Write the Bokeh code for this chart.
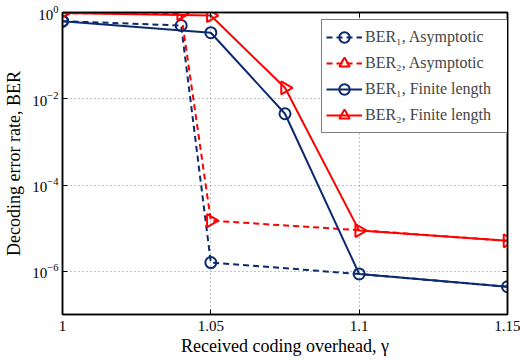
import math
from bokeh.plotting import figure
from bokeh.models import (FixedTicker, LinearAxis, Legend, LegendItem,
                          CustomJSTickFormatter, Range1d)
from bokeh.embed import file_html
from bokeh.resources import INLINE

x_asym = [1.0, 1.04, 1.05, 1.1, 1.15]
ber1_asym = [0.63, 0.50, 1.6e-6, 8.7e-7, 4.4e-7]
ber2_asym = [0.97, 0.93, 1.5e-5, 9.0e-6, 5.1e-6]

x_fin = [1.0, 1.05, 1.075, 1.1, 1.15]
ber1_fin = [0.63, 0.34, 4.5e-3, 8.7e-7, 4.4e-7]
ber2_fin = [0.97, 0.85, 1.8e-2, 8.8e-6, 5.1e-6]

labels = ["BER\u2081, Asymptotic", "BER\u2082, Asymptotic",
          "BER\u2081, Finite length", "BER\u2082, Finite length"]
x_ticks = [1.0, 1.05, 1.1, 1.15]
y_ticks = [1e-6, 1e-4, 1e-2, 1.0]

NAVY = "#0c2a6e"
RED = "#ff0000"
FONT = "Liberation Serif"

p = figure(width=520, height=360, output_backend="svg", toolbar_location=None,
           y_axis_type="log", x_range=Range1d(1.0, 1.15), y_range=Range1d(1e-7, 1.0))
p.min_border_left = 62
p.min_border_right = 13
p.min_border_top = 12
p.min_border_bottom = 46
p.outline_line_color = "black"
p.outline_line_width = 1.5

for g in (p.xgrid, p.ygrid):
    g.grid_line_color = "#888888"
    g.grid_line_dash = "1 3"
    g.grid_line_width = 1
p.xgrid.ticker = FixedTicker(ticks=x_ticks)
p.ygrid.ticker = FixedTicker(ticks=y_ticks)

xa = p.xaxis[0]
ya = p.yaxis[0]
xa.ticker = FixedTicker(ticks=x_ticks)
ya.ticker = FixedTicker(ticks=y_ticks)
xa.formatter = CustomJSTickFormatter(code="return tick.toFixed(tick==1?0:(Math.abs(tick*10-Math.round(tick*10))<1e-9?1:2));")
for ax in (xa, ya):
    ax.major_tick_in = 5
    ax.major_tick_out = 0
    ax.minor_tick_in = 0
    ax.minor_tick_out = 0
    ax.axis_line_width = 1.5
    ax.major_label_text_font = FONT
    ax.major_label_text_font_size = "15px"
    ax.major_label_text_color = "black"
    ax.axis_label_text_font = FONT
    ax.axis_label_text_font_size = "18px"
    ax.axis_label_text_font_style = "normal"
    ax.axis_label_text_color = "black"
xa.axis_label = "Received coding overhead, \u03b3"
ya.axis_label = "Decoding error rate, BER"
xa.major_label_standoff = 6
ya.major_label_standoff = 4
xa.axis_label_standoff = 2
ya.axis_label_standoff = 5

blank = CustomJSTickFormatter(code="return '';")
top = LinearAxis(ticker=FixedTicker(ticks=x_ticks), formatter=blank,
                 major_tick_in=5, major_tick_out=0, minor_tick_in=0, minor_tick_out=0,
                 axis_line_width=1.5, major_label_standoff=0)
right = LinearAxis(ticker=FixedTicker(ticks=y_ticks), formatter=blank,
                   major_tick_in=5, major_tick_out=0, minor_tick_in=0, minor_tick_out=0,
                   axis_line_width=1.5, major_label_standoff=0)
p.add_layout(top, "above")
p.add_layout(right, "right")

tri = -math.pi / 2

l1 = p.line(x_asym, ber1_asym, line_color=NAVY, line_width=2, line_dash="6 4")
s1 = p.scatter(x_asym[:-2], ber1_asym[:-2], marker="circle", size=11, line_color=NAVY,
               line_width=2, fill_color=None)
l2 = p.line(x_asym, ber2_asym, line_color=RED, line_width=2, line_dash="6 4")
s2 = p.scatter(x_asym[:-2], ber2_asym[:-2], angle=tri, marker="triangle", size=13,
               line_color=RED, line_width=2, fill_color=None)
l3 = p.line(x_fin, ber1_fin, line_color=NAVY, line_width=2)
s3 = p.scatter(x_fin, ber1_fin, marker="circle", size=11, line_color=NAVY,
               line_width=2, fill_color=None)
l4 = p.line(x_fin, ber2_fin, line_color=RED, line_width=2)
s4 = p.scatter(x_fin, ber2_fin, angle=tri, marker="triangle", size=13,
               line_color=RED, line_width=2, fill_color=None)

legend = Legend(items=[LegendItem(label=labels[0], renderers=[l1, s1]),
                       LegendItem(label=labels[1], renderers=[l2, s2]),
                       LegendItem(label=labels[2], renderers=[l3, s3]),
                       LegendItem(label=labels[3], renderers=[l4, s4])],
                location=(259, 181))
legend.label_text_font = FONT
legend.label_text_font_size = "16px"
legend.label_height = 20
legend.label_width = 153
legend.glyph_width = 36
legend.glyph_height = 26
legend.spacing = 0
legend.padding = 4
legend.margin = 0
legend.label_standoff = 3
legend.border_line_color = "black"
legend.border_line_width = 1.5
legend.background_fill_alpha = 1
p.add_layout(legend, "center")

open("out.html", "w").write(file_html(p, INLINE))
